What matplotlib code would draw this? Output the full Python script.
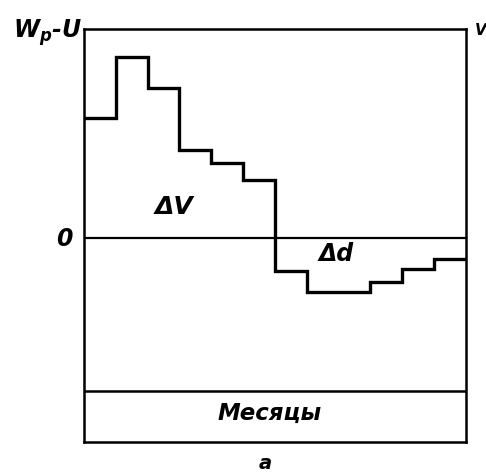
import numpy as np
import matplotlib.pyplot as plt

# Monthly balance W_p - U (arbitrary units)
months = np.arange(1, 13)
balance = [120, 181, 150, 88, 75, 58, -33, -54, -54, -44, -31, -21]

y_top = 209
y_bottom = -204
y_band = -153

plt.rcParams['mathtext.fontset'] = 'custom'
plt.rcParams['mathtext.it'] = 'DejaVu Sans:italic:bold'
plt.rcParams['mathtext.rm'] = 'DejaVu Sans:italic:bold'

fig = plt.figure(figsize=(4.86, 4.75), dpi=100)
ax = fig.add_axes([0.1728, 0.0695, 0.786, 0.869])

edges = np.arange(len(months) + 1)
ax.stairs(balance, edges, baseline=None, color='black', linewidth=2.4)

# zero line and the months band
ax.axhline(0, color='black', linewidth=1.6)
ax.axhline(y_band, color='black', linewidth=1.8)

ax.set_xlim(0, len(months))
ax.set_ylim(y_bottom, y_top)
ax.set_xticks([])
ax.set_yticks([])
for s in ax.spines.values():
    s.set_linewidth(1.8)

font = dict(fontstyle='italic', fontweight='bold', color='black', clip_on=False)
ax.text(-0.06, 200, '$W_p$-U', ha='right', va='baseline', fontsize=17, **font)
ax.text(-0.63, -1, '0', ha='center', va='center', fontsize=17, **font)
ax.text(2.83, 31, 'ΔV', ha='center', va='center', fontsize=18, **font)
ax.text(7.92, -16, 'Δd', ha='center', va='center', fontsize=17, **font)
ax.text(5.84, -175, 'Месяцы', ha='center', va='center', fontsize=16.5, **font)
ax.text(5.69, -216, 'a', ha='center', va='top', fontsize=14, **font)
ax.text(12.28, 208, 'V', ha='left', va='center', fontsize=11, **font)

fig.savefig('out.png', dpi=100)
